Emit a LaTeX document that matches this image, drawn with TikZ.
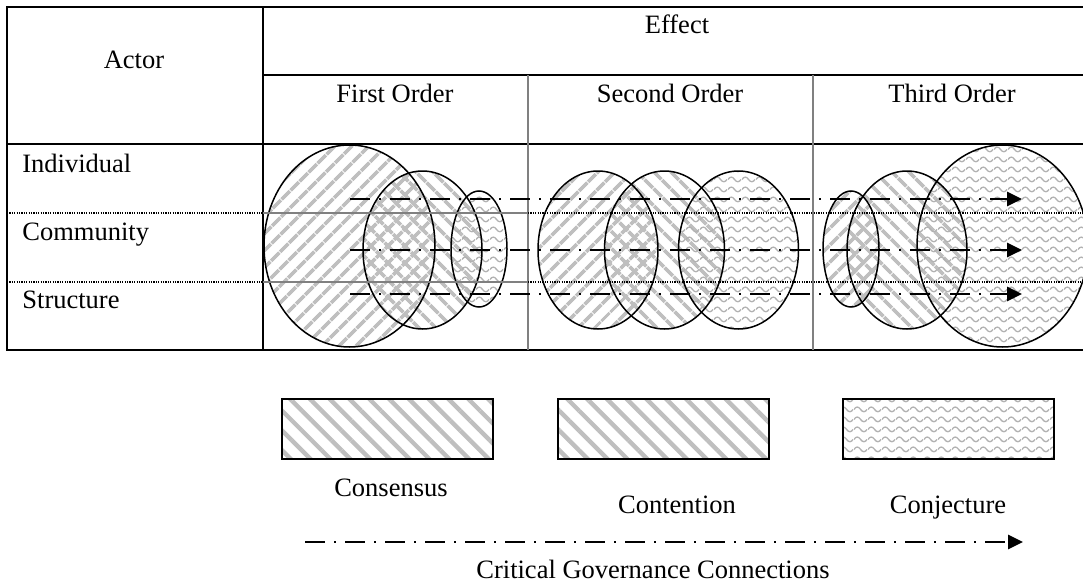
\documentclass[tikz,border=0pt]{standalone}
\usepackage{fontspec}
\setmainfont{Liberation Serif}
\usetikzlibrary{arrows.meta,patterns.meta,positioning}

\pgfdeclarepattern{
  name=waves,
  bottom left={\pgfpoint{0pt}{0pt}},
  top right={\pgfpoint{7pt}{5pt}},
  tile size={\pgfpoint{7pt}{5pt}},
  code={
    \pgfsetlinewidth{0.7pt}
    \pgfpathmoveto{\pgfpoint{0pt}{2.5pt}}
    \pgfpathcurveto{\pgfpoint{1.2pt}{4.2pt}}{\pgfpoint{2.3pt}{4.2pt}}{\pgfpoint{3.5pt}{2.5pt}}
    \pgfpathcurveto{\pgfpoint{4.7pt}{0.8pt}}{\pgfpoint{5.8pt}{0.8pt}}{\pgfpoint{7pt}{2.5pt}}
    \pgfusepath{stroke}
  }
}

\begin{document}
\begin{tikzpicture}[x=0.5pt,y=-0.5pt,
  font=\fontsize{13.25pt}{15pt}\selectfont,
  txt/.style={inner sep=0pt, anchor=base},
  consensus/.style={pattern={Lines[angle=45,distance=6.5pt,line width=2pt]}, pattern color=black!25},
  contention/.style={pattern={Lines[angle=-45,distance=6.5pt,line width=2pt]}, pattern color=black!25},
  conjecture/.style={pattern=waves, pattern color=black!30},
  legstripe/.style={pattern={Lines[angle=-45,distance=7pt,line width=2.2pt]}, pattern color=black!25},
  keybox/.style={draw, line width=0.9pt, minimum width=105.5pt, minimum height=30pt, inner sep=0pt},
  oval/.style={draw, line width=0.75pt},
  frame/.style={line width=0.9pt},
  rowline/.style={line width=0.8pt, dash pattern=on 0.6pt off 0.6pt},
  govarrow/.style={line width=1.4pt, dash pattern=on 10pt off 4.5pt on 0.8pt off 4.7pt,
    -{Triangle[length=7.5pt,width=7pt]}}
]
\useasboundingbox (0,0) rectangle (1083,584);
\clip (0,0) rectangle (1083,584);

% table
\draw[frame] (7,7) rectangle (1091,350);
\draw[frame] (263,7) -- (263,350);
\draw[frame] (263,75) -- (1091,75);
\draw[frame] (7,144) -- (1091,144);
\draw[gray, line width=1pt] (528,75) -- (528,350);
\draw[gray, line width=1pt] (813,75) -- (813,350);

\node[txt] (actor) at (134,68) {Actor};
\node[txt] (effect) at (677,33) {Effect};
\node[txt] (first) at (395,102) {First Order};
\node[txt] (second) at (670,102) {Second Order};
\node[txt] (third) at (952,102) {Third Order};
\node[txt, anchor=base west] (indiv) at (22,172) {Individual};
\node[txt, anchor=base west] (commun) at (22,240) {Community};
\node[txt, anchor=base west] (struct) at (22,308) {Structure};

% ovals
\path[consensus] (349.5,246) ellipse [x radius=85.5, y radius=101]
  (598,250) ellipse [x radius=60, y radius=79]
  (851,249) ellipse [x radius=28, y radius=58];
\path[contention] (422.5,250) ellipse [x radius=59.5, y radius=79]
  (664.5,250) ellipse [x radius=60, y radius=79]
  (907,250) ellipse [x radius=60, y radius=79];
\path[conjecture] (479,249) ellipse [x radius=28, y radius=58]
  (738.5,250) ellipse [x radius=60, y radius=79]
  (1002.5,246) ellipse [x radius=85.5, y radius=101];
\draw[oval] (349.5,246) ellipse [x radius=85.5, y radius=101];
\draw[oval] (422.5,250) ellipse [x radius=59.5, y radius=79];
\draw[oval] (479,249) ellipse [x radius=28, y radius=58];
\draw[oval] (598,250) ellipse [x radius=60, y radius=79];
\draw[oval] (664.5,250) ellipse [x radius=60, y radius=79];
\draw[oval] (738.5,250) ellipse [x radius=60, y radius=79];
\draw[oval] (851,249) ellipse [x radius=28, y radius=58];
\draw[oval] (907,250) ellipse [x radius=60, y radius=79];
\draw[oval] (1002.5,246) ellipse [x radius=85.5, y radius=101];

\foreach \y in {213,282} {
  \draw[rowline] (7,\y) -- (263,\y);
  \draw[gray, line width=0.6pt] (263,\y) -- (528,\y);
  \draw[rowline] (528,\y) -- (1091,\y);
}

% connections
\coordinate (ind-a) at (350,199);
\coordinate (ind-b) at (1022,199);
\coordinate (com-a) at (350,250);
\coordinate (com-b) at (1022,250);
\coordinate (str-a) at (350,294);
\coordinate (str-b) at (1022,294);
\draw[govarrow] (ind-a) -- (ind-b);
\draw[govarrow] (com-a) -- (com-b);
\draw[govarrow] (str-a) -- (str-b);

% key
\node[keybox, legstripe] (consbox) at (387.5,429) {};
\node[keybox, legstripe] (contbox) at (663.5,429) {};
\node[keybox, conjecture] (conjbox) at (948.5,429) {};
\node[txt] (conslbl) at (391,496) {Consensus};
\node[txt] (contlbl) at (677,513) {Contention};
\node[txt] (conjlbl) at (948,513) {Conjecture};
\coordinate (key-a) at (305,542);
\coordinate (key-b) at (1023,542);
\draw[govarrow] (key-a) -- (key-b);
\node[txt] (keylbl) at (653,578) {Critical Governance Connections};
\end{tikzpicture}
\end{document}
